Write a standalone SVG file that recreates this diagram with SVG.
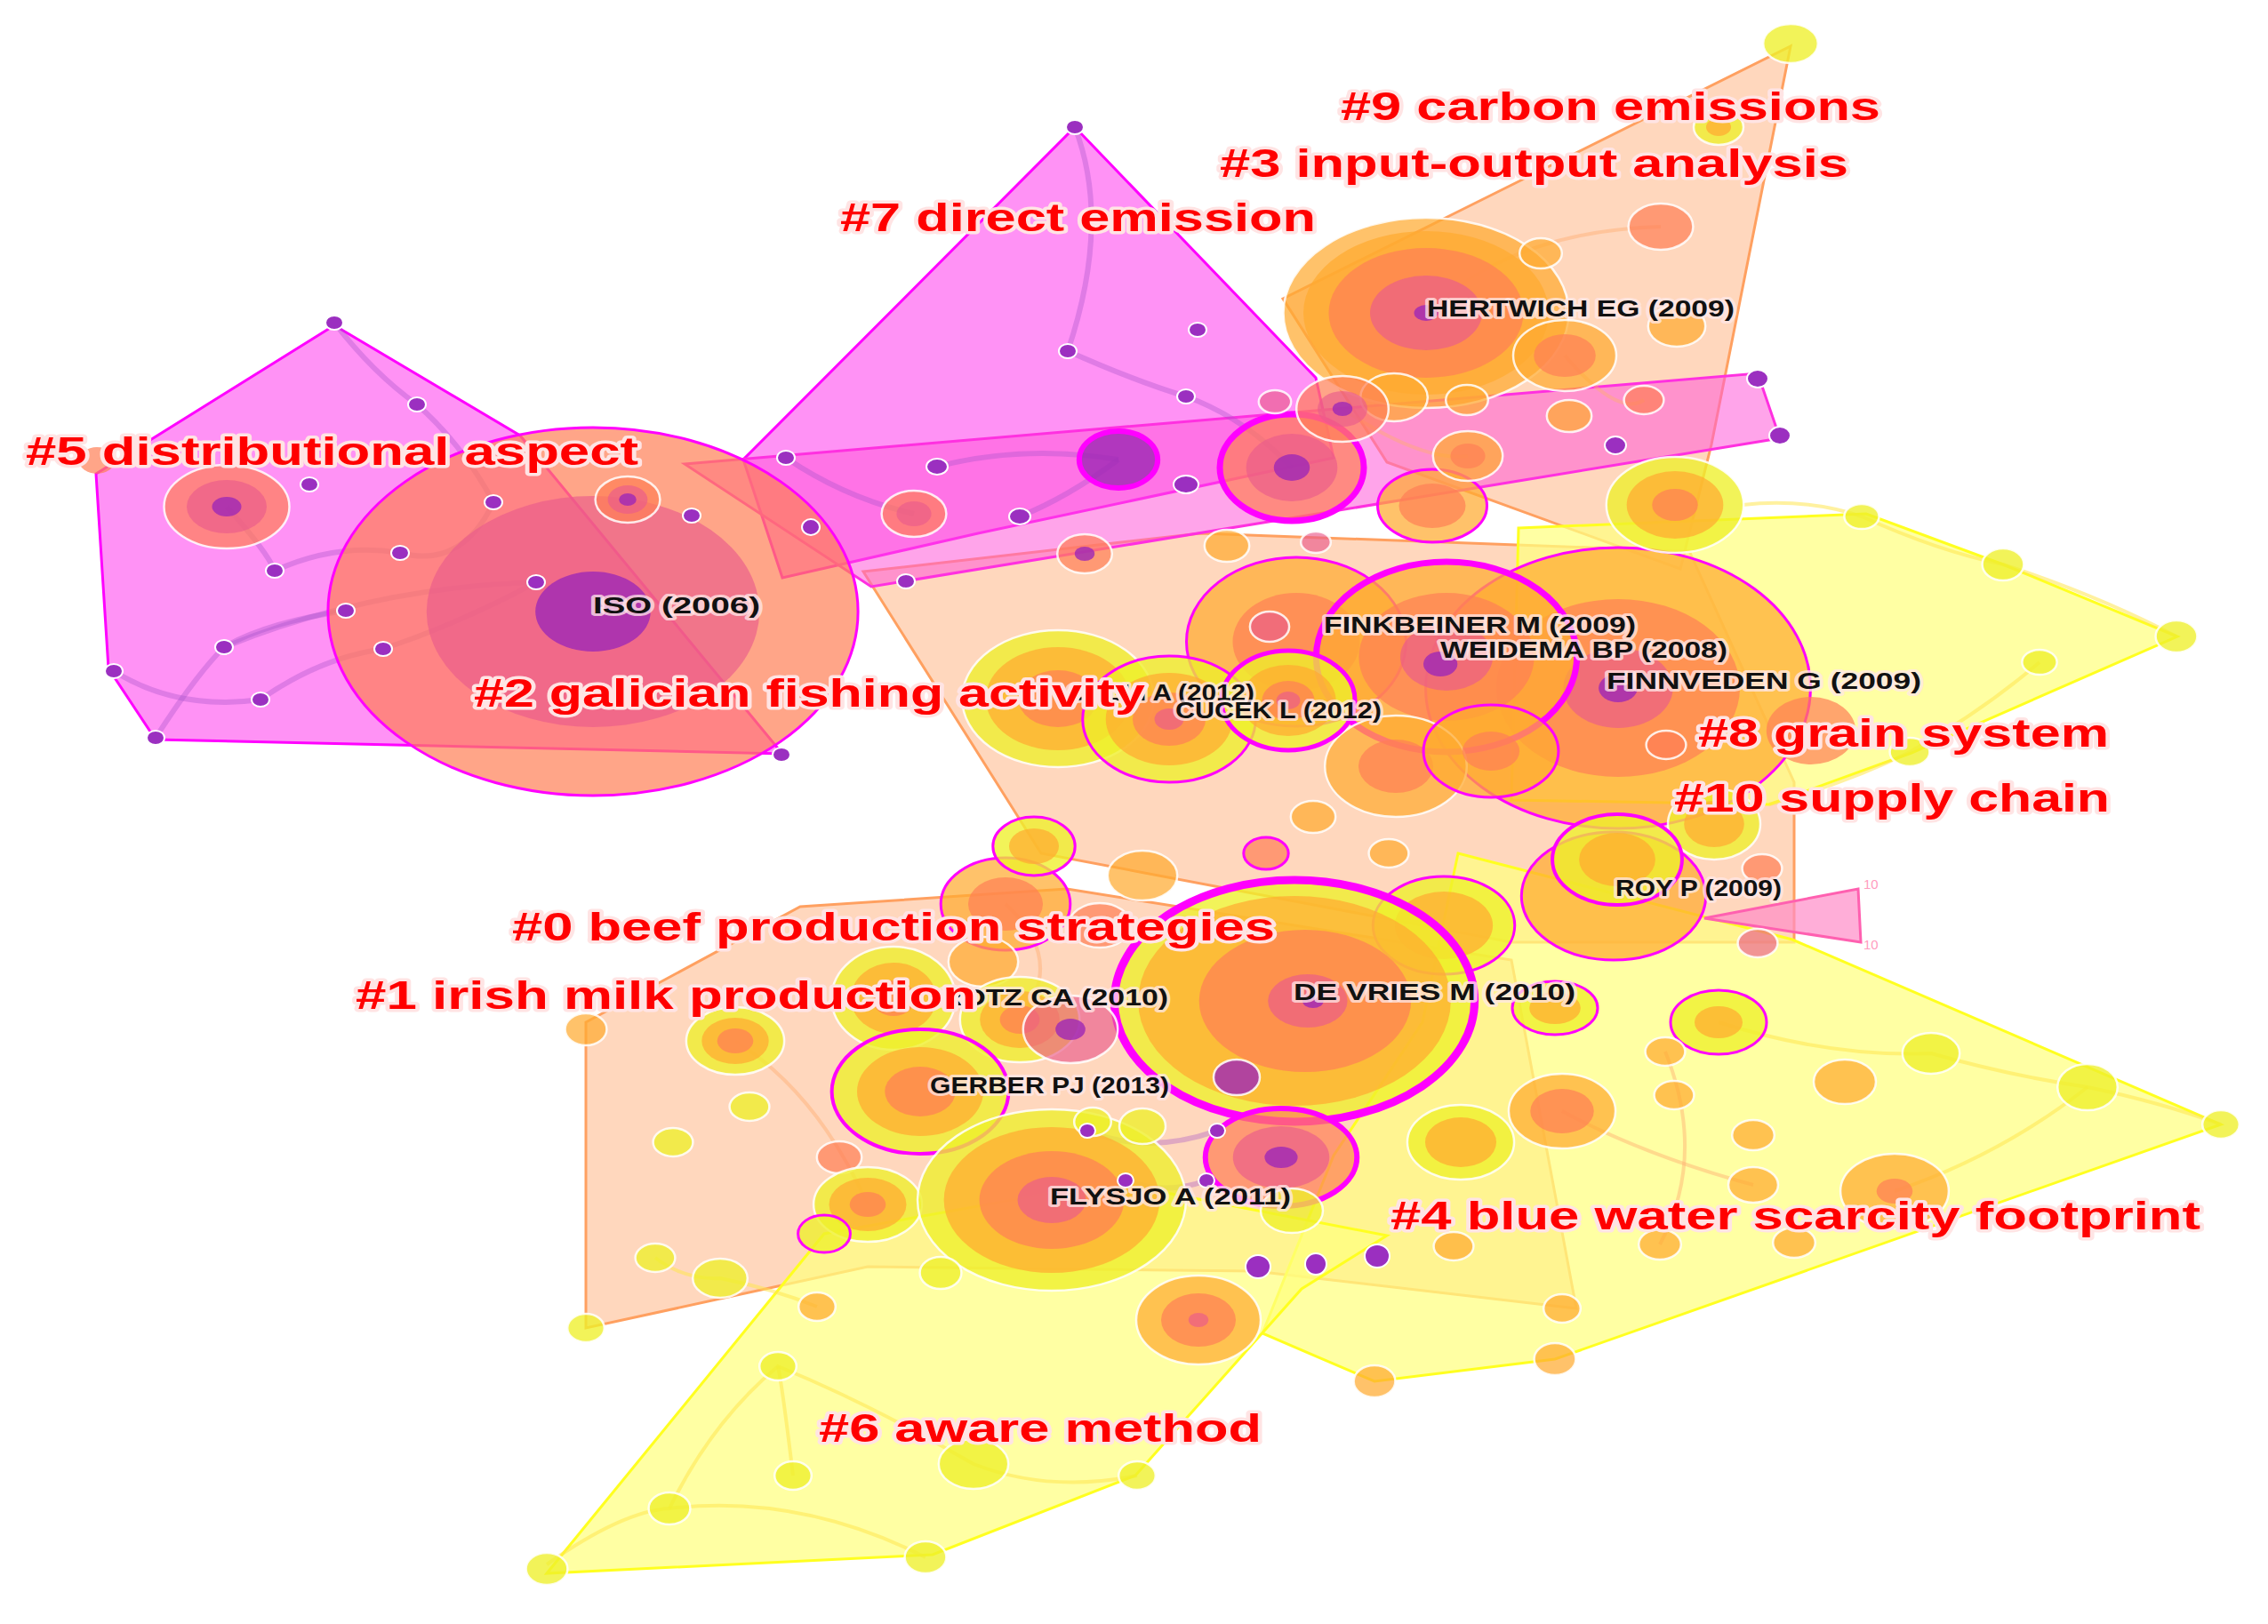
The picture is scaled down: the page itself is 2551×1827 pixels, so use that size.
<svg xmlns="http://www.w3.org/2000/svg" width="2551" height="1827" viewBox="0 0 2551 1827">
<style>
.hm{fill:#ff5af0;fill-opacity:.66;stroke:#ff00ff;stroke-width:3}
.hb{fill:#ff5ad8;fill-opacity:.55;stroke:#ff30e0;stroke-width:3}
.hp{fill:#ffc8a4;fill-opacity:.72;stroke:#ffa060;stroke-width:3}
.hy{fill:#ffff80;fill-opacity:.72;stroke:#ffff20;stroke-width:3}
.y{fill:#eef02a;fill-opacity:.78}
.o{fill:#ffab30;fill-opacity:.72}
.s{fill:#ff7f55;fill-opacity:.7}
.p{fill:#ea5a8c;fill-opacity:.65}
.v{fill:#a02ab5;fill-opacity:.82}
.w{stroke:#ffffff;stroke-width:2.5;stroke-opacity:.85;vector-effect:non-scaling-stroke}
.m{fill:none;stroke:#ff00ff;vector-effect:non-scaling-stroke}
.d{fill:#9b2fc0;stroke:#ffffff;stroke-width:2;vector-effect:non-scaling-stroke}
.ep{fill:none;stroke:#a450c8;stroke-opacity:.35;stroke-width:6}
.ey{fill:none;stroke:#ffe650;stroke-opacity:.55;stroke-width:4}
.eo{fill:none;stroke:#ffae70;stroke-opacity:.45;stroke-width:4}
.lbl{font-family:"Liberation Sans",Arial,sans-serif;font-weight:bold;font-size:45px;fill:#ff0000;stroke:#ffe4e4;stroke-width:7;stroke-linejoin:round;paint-order:stroke}
.au{font-family:"Liberation Sans",Arial,sans-serif;font-weight:bold;font-size:25px;fill:#111111;stroke:#ffe8e8;stroke-opacity:.75;stroke-width:6;stroke-linejoin:round;paint-order:stroke}
.ten{font-family:"Liberation Sans",Arial,sans-serif;font-size:15px;fill:#ff9cc0}
</style>
<rect width="2551" height="1827" fill="#ffffff"/>

<g id="hulls">
<polygon class="hp" points="971,643 1350,600 1900,620 2018,880 2018,1060 1700,1060 1171,960"/>
<polygon class="hp" points="2014,52 1925,500 1890,640 1560,520 1443,336 1630,243"/>
<polygon class="hp" points="659,1150 900,1020 1200,1000 1700,1080 1773,1472 1411,1430 976,1425 659,1494"/>
<polygon class="hy" points="1708,594 2099,578 2253,635 2449,716 2150,847 1990,905 1700,900"/>
<polygon class="hy" points="1640,960 2016,1057 2498,1265 1749,1529 1546,1554 1420,1500 1500,1300 1600,1150"/>
<polygon class="hy" points="615,1770 927,1388 1250,1330 1560,1390 1464,1450 1277,1660 1049,1749"/>
<polygon class="hm" points="376,366 585,490 880,848 175,832 122,752 108,533"/>
<polygon class="hm" points="1209,143 1480,425 1500,515 1100,600 880,650 836,517"/>
<polygon class="hb" points="770,522 1977,420 2002,493 980,660"/>
<polygon points="1917,1033 2090,1000 2093,1060" fill="#ff8cc8" fill-opacity=".7" stroke="#ff60b0" stroke-width="3"/>
<text class="ten" x="2096" y="1000">10</text>
<text class="ten" x="2096" y="1068">10</text>
</g>

<g id="connectors">
<path class="ep" d="M376,363 Q420,420 469,455 Q520,500 555,565"/>
<path class="ep" d="M128,755 Q200,800 293,787"/>
<path class="ep" d="M175,830 Q220,760 252,728 Q420,660 603,655"/>
<path class="ep" d="M309,642 Q380,610 450,622 Q520,640 555,565"/>
<path class="ep" d="M389,687 Q300,700 252,728"/>
<path class="ep" d="M293,787 Q360,740 431,730 Q520,700 603,655"/>
<path class="ep" d="M255,570 Q300,620 309,642"/>
<path class="ep" d="M1209,143 Q1250,250 1201,395"/>
<path class="ep" d="M1201,395 Q1280,430 1334,446 Q1400,470 1453,526"/>
<path class="ep" d="M1054,525 Q1150,500 1258,517"/>
<path class="ep" d="M884,515 Q950,560 1028,578"/>
<path class="ep" d="M1147,581 Q1200,560 1258,517"/>
<path class="ep" d="M1223,1272 Q1290,1300 1369,1272"/>
<path class="ep" d="M1266,1328 Q1310,1345 1357,1328"/>
<path class="eo" d="M1604,352 Q1700,260 1868,255"/>
<path class="eo" d="M1760,400 Q1820,470 1849,450"/>
<path class="eo" d="M1510,460 Q1600,520 1651,513"/>
<path class="eo" d="M1131,1017 Q1200,1080 1147,1147"/>
<path class="eo" d="M827,1171 Q920,1230 976,1355"/>
<path class="eo" d="M1757,1250 Q1850,1300 1972,1333"/>
<path class="eo" d="M1873,1183 Q1920,1300 1867,1400"/>
<path class="ey" d="M1960,568 Q2030,560 2094,581 Q2180,620 2253,635 Q2360,670 2448,716"/>
<path class="ey" d="M1990,905 Q2080,880 2148,846 Q2230,800 2294,745"/>
<path class="ey" d="M1933,1150 Q2060,1190 2172,1185 Q2260,1210 2348,1223 Q2430,1240 2498,1265"/>
<path class="ey" d="M2131,1340 Q2250,1300 2348,1223"/>
<path class="ey" d="M615,1760 Q700,1700 753,1697 Q900,1680 1041,1752"/>
<path class="ey" d="M753,1697 Q800,1600 875,1537 Q980,1580 1095,1647 Q1180,1680 1279,1660"/>
<path class="ey" d="M892,1660 Q880,1560 875,1537"/>
<path class="ey" d="M737,1415 Q770,1440 810,1438 Q870,1450 919,1470"/>
</g>

<g id="nodes">
<g id="n-iso" transform="translate(667 688) scale(1.44 1)"><circle class="s" r="207"/><circle class="m" r="207" stroke-width="3"/><circle class="p" r="130"/><circle class="v" r="45" fill-opacity=".6"/></g>
<g id="n-dist" transform="translate(255 570) scale(1.5 1)"><circle class="s w" r="47"/><circle class="p" r="30"/><circle class="v" r="11"/></g>
<g id="n-20" transform="translate(706 562) scale(1.4 1)"><circle class="s w" r="26"/><circle class="p" r="16"/><circle class="v" r="7"/></g>
<g id="n-21" transform="translate(109 518) scale(1.35 1)"><circle class="s" r="15"/></g>
<g id="n-hertwich" transform="translate(1604 352) scale(1.5 1)"><circle class="o w" r="107"/><circle class="o" r="92" fill-opacity=".3"/><circle class="s" r="73"/><circle class="p" r="42"/><circle class="v" r="9"/></g>
<g id="n-fin" transform="translate(1820 774) scale(1.37 1)"><circle class="o" r="158" fill-opacity=".62"/><circle class="m" r="158" stroke-width="3"/><circle class="s" r="100" fill-opacity=".5"/><circle class="p" r="45" fill-opacity=".5"/><circle class="v" r="16" fill-opacity=".6"/></g>
<g id="n-d1" transform="translate(1458 722) scale(1.3 1)"><circle class="o" r="95"/><circle class="m" r="95" stroke-width="3"/><circle class="s" r="55" fill-opacity=".5"/></g>
<g id="n-weidema" transform="translate(1627 739) scale(1.37 1)"><circle class="o" r="107"/><circle class="s" r="72" fill-opacity=".6"/><circle class="p" r="38" fill-opacity=".5"/><circle class="v" r="14" cx="-5" cy="8"/><circle class="m" r="107" stroke-width="7"/></g>
<g id="n-finkbeiner" transform="translate(1428 705) scale(1.3 1)"><circle class="p w" r="17"/></g>
<g id="n-big-c" transform="translate(1570 862) scale(1.4 1)"><circle class="o w" r="57"/><circle class="s" r="30" fill-opacity=".5"/></g>
<g id="n-yel1" transform="translate(1190 786) scale(1.4 1)"><circle class="y w" r="77"/><circle class="o" r="58"/><circle class="s" r="32" fill-opacity=".5"/></g>
<g id="n-galli" transform="translate(1315 809) scale(1.37 1)"><circle class="y" r="71"/><circle class="o" r="52"/><circle class="s" r="30" fill-opacity=".5"/><circle class="p" r="12"/><circle class="m" r="71" stroke-width="3"/></g>
<g id="n-cucek" transform="translate(1449 788) scale(1.34 1)"><circle class="y" r="56"/><circle class="o" r="40"/><circle class="s" r="22" fill-opacity=".5"/><circle class="p" r="10"/><circle class="m" r="56" stroke-width="5"/></g>
<g id="n-ff" transform="translate(1677 845) scale(1.46 1)"><circle class="o" r="52"/><circle class="s" r="22" fill-opacity=".5"/><circle class="m" r="52" stroke-width="3"/></g>
<g id="n-mag1" transform="translate(1258 517) scale(1.38 1)"><circle class="v" r="32" fill="#b030b0"/><circle class="m" r="32" stroke-width="6"/></g>
<g id="n-mag2" transform="translate(1453 526) scale(1.35 1)"><circle class="s" r="60"/><circle class="p" r="38"/><circle class="v" r="15"/><circle class="m" r="60" stroke-width="7"/></g>
<g id="n-mag3" transform="translate(1611 569) scale(1.5 1)"><circle class="o" r="41"/><circle class="s" r="25" fill-opacity=".5"/><circle class="m" r="41" stroke-width="3"/></g>
<g id="n-yel2" transform="translate(1884 568) scale(1.43 1)"><circle class="y w" r="54"/><circle class="o" r="38"/><circle class="s" r="18"/></g>
<g id="n-u1" transform="translate(2014 49) scale(1.4 1)"><circle class="y w" r="22"/></g>
<g id="n-u2" transform="translate(1933 143) scale(1.4 1)"><circle class="y w" r="20"/><circle class="o" r="10"/></g>
<g id="n-u3" transform="translate(1868 255) scale(1.4 1)"><circle class="s w" r="26"/></g>
<g id="n-u4" transform="translate(1733 285) scale(1.4 1)"><circle class="o w" r="17"/></g>
<g id="n-u5" transform="translate(1760 400) scale(1.45 1)"><circle class="o w" r="40"/><circle class="s" r="24" fill-opacity=".6"/></g>
<g id="n-u6" transform="translate(1886 367) scale(1.4 1)"><circle class="o w" r="23"/></g>
<g id="n-u7" transform="translate(1849 450) scale(1.4 1)"><circle class="s w" r="16"/></g>
<g id="n-u8" transform="translate(1765 468) scale(1.4 1)"><circle class="o w" r="18"/></g>
<g id="n-u9" transform="translate(1651 513) scale(1.4 1)"><circle class="o w" r="28"/><circle class="s" r="14"/></g>
<g id="n-u10" transform="translate(1568 447) scale(1.4 1)"><circle class="o w" r="27"/></g>
<g id="n-u11" transform="translate(1510 460) scale(1.4 1)"><circle class="s w" r="37"/><circle class="p" r="20"/><circle class="v" r="8"/></g>
<g id="n-u12" transform="translate(1434 452) scale(1.4 1)"><circle class="p w" r="13"/></g>
<g id="n-u13" transform="translate(1650 450) scale(1.4 1)"><circle class="o w" r="17"/></g>
<g id="n-u14" transform="translate(1480 610) scale(1.4 1)"><circle class="p w" r="12"/></g>
<g id="n-u15" transform="translate(1380 614) scale(1.4 1)"><circle class="o w" r="18"/></g>
<g id="n-u16" transform="translate(1220 623) scale(1.4 1)"><circle class="s w" r="22"/><circle class="v" r="8"/></g>
<g id="n-u17" transform="translate(1028 578) scale(1.4 1)"><circle class="s w" r="26"/><circle class="p" r="14"/></g>
<g id="n-r1" transform="translate(2037 822) scale(1.32 1)"><circle class="s" r="38" fill-opacity=".55"/></g>
<g id="n-r2" transform="translate(1874 838) scale(1.4 1)"><circle class="s w" r="16"/></g>
<g id="n-r3" transform="translate(1928 927) scale(1.3 1)"><circle class="y w" r="40"/><circle class="o" r="26"/></g>
<g id="n-r4" transform="translate(1982 977) scale(1.4 1)"><circle class="s w" r="16"/></g>
<g id="n-r5" transform="translate(1977 1061) scale(1.4 1)"><circle class="p w" r="16"/></g>
<g id="n-r6" transform="translate(2148 846) scale(1.4 1)"><circle class="y w" r="16"/></g>
<g id="n-r7" transform="translate(2294 745) scale(1.4 1)"><circle class="y w" r="14"/></g>
<g id="n-r8" transform="translate(2448 716) scale(1.3 1)"><circle class="y w" r="18"/></g>
<g id="n-r9" transform="translate(2253 635) scale(1.3 1)"><circle class="y w" r="18"/></g>
<g id="n-r10" transform="translate(2094 581) scale(1.4 1)"><circle class="y w" r="14"/></g>
<g id="n-roy2" transform="translate(1815 1008) scale(1.44 1)"><circle class="o" r="72" fill-opacity=".55"/><circle class="m" r="72" stroke-width="3"/></g>
<g id="n-roy1" transform="translate(1819 967) scale(1.43 1)"><circle class="y" r="51"/><circle class="o" r="30"/><circle class="m" r="51" stroke-width="4"/></g>
<g id="n-c1" transform="translate(1477 919) scale(1.4 1)"><circle class="o w" r="18"/></g>
<g id="n-c2" transform="translate(1562 960) scale(1.4 1)"><circle class="o w" r="16"/></g>
<g id="n-c3" transform="translate(1424 960) scale(1.4 1)"><circle class="s" r="18"/><circle class="m" r="18" stroke-width="3"/></g>
<g id="n-c4" transform="translate(1285 985) scale(1.4 1)"><circle class="o w" r="28"/></g>
<g id="n-c5" transform="translate(1131 1017) scale(1.4 1)"><circle class="o" r="52"/><circle class="s" r="30" fill-opacity=".5"/><circle class="m" r="52" stroke-width="3"/></g>
<g id="n-c6" transform="translate(1163 952) scale(1.4 1)"><circle class="y" r="33"/><circle class="o" r="20"/><circle class="m" r="33" stroke-width="3"/></g>
<g id="n-c7" transform="translate(1624 1041) scale(1.45 1)"><circle class="y" r="55"/><circle class="o" r="38"/><circle class="m" r="55" stroke-width="3"/></g>
<g id="n-c8" transform="translate(1237 1041) scale(1.4 1)"><circle class="s w" r="25"/></g>
<g id="n-c9" transform="translate(1106 1082) scale(1.4 1)"><circle class="o w" r="28"/></g>
<g id="n-devries" transform="translate(1456 1126) scale(1.49 1)"><circle class="y" r="136"/><circle class="o" r="118"/><circle class="s" r="80" cx="8" fill-opacity=".55"/><circle class="p" r="30" cx="10" fill-opacity=".5"/><circle class="v" r="8" cx="14"/><circle class="m" r="136" stroke-width="9"/></g>
<g id="n-c10" transform="translate(1005 1123) scale(1.2 1)"><circle class="y w" r="58"/><circle class="o" r="40"/><circle class="s" r="20"/></g>
<g id="n-c11" transform="translate(1147 1147) scale(1.4 1)"><circle class="y w" r="48"/><circle class="o" r="32"/><circle class="s" r="16"/></g>
<g id="n-c12" transform="translate(1204 1158) scale(1.4 1)"><circle class="p w" r="38"/><circle class="v" r="12"/></g>
<g id="n-c13" transform="translate(1391 1212) scale(1.3 1)"><circle class="v w" r="20"/></g>
<g id="n-c14" transform="translate(827 1171) scale(1.45 1)"><circle class="y w" r="38"/><circle class="o" r="26"/><circle class="s" r="14"/></g>
<g id="n-c15" transform="translate(659 1158) scale(1.3 1)"><circle class="o w" r="18"/></g>
<g id="n-c16" transform="translate(843 1245) scale(1.4 1)"><circle class="y w" r="16"/></g>
<g id="n-c17" transform="translate(944 1302) scale(1.4 1)"><circle class="s w" r="18"/></g>
<g id="n-c18" transform="translate(757 1285) scale(1.4 1)"><circle class="y w" r="16"/></g>
<g id="n-gerber" transform="translate(1035 1228) scale(1.42 1)"><circle class="y" r="70"/><circle class="o" r="50"/><circle class="s" r="28" fill-opacity=".5"/><circle class="m" r="70" stroke-width="4"/></g>
<g id="n-c19" transform="translate(976 1355) scale(1.45 1)"><circle class="y w" r="42"/><circle class="o" r="30"/><circle class="s" r="14"/></g>
<g id="n-flysjo" transform="translate(1183 1350) scale(1.48 1)"><circle class="y w" r="102"/><circle class="o" r="82"/><circle class="s" r="55"/><circle class="p" r="26"/></g>
<g id="n-c20" transform="translate(737 1415) scale(1.4 1)"><circle class="y w" r="16"/></g>
<g id="n-c21" transform="translate(810 1438) scale(1.4 1)"><circle class="y w" r="22"/></g>
<g id="n-c22" transform="translate(659 1494) scale(1.3 1)"><circle class="y w" r="16"/></g>
<g id="n-c23" transform="translate(919 1470) scale(1.3 1)"><circle class="o w" r="16"/></g>
<g id="n-c24" transform="translate(1058 1432) scale(1.3 1)"><circle class="y w" r="18"/></g>
<g id="n-c25" transform="translate(1229 1262) scale(1.3 1)"><circle class="y w" r="16"/></g>
<g id="n-c26" transform="translate(1285 1267) scale(1.3 1)"><circle class="y w" r="20"/></g>
<g id="n-c27" transform="translate(927 1388) scale(1.4 1)"><circle class="y" r="21"/><circle class="m" r="21" stroke-width="3"/></g>
<g id="n-maglow" transform="translate(1441 1302) scale(1.55 1)"><circle class="s" r="55"/><circle class="p" r="35"/><circle class="v" r="12"/><circle class="m" r="55" stroke-width="6"/></g>
<g id="n-c28" transform="translate(1348 1485) scale(1.4 1)"><circle class="o w" r="50"/><circle class="s" r="30"/><circle class="p" r="8"/></g>
<g id="n-c29" transform="translate(1453 1362) scale(1.4 1)"><circle class="y w" r="25"/></g>
<g id="n-c30" transform="translate(1635 1402) scale(1.4 1)"><circle class="o w" r="16"/></g>
<g id="n-c31" transform="translate(1643 1285) scale(1.43 1)"><circle class="y w" r="42"/><circle class="o" r="28"/></g>
<g id="n-c32" transform="translate(1757 1250) scale(1.43 1)"><circle class="o w" r="42"/><circle class="s" r="25"/></g>
<g id="n-c33" transform="translate(1933 1150) scale(1.5 1)"><circle class="y" r="36"/><circle class="o" r="18"/><circle class="m" r="36" stroke-width="3"/></g>
<g id="n-c34" transform="translate(1749 1134) scale(1.6 1)"><circle class="y" r="30"/><circle class="o" r="18"/><circle class="m" r="30" stroke-width="3"/></g>
<g id="n-c35" transform="translate(2075 1217) scale(1.4 1)"><circle class="o w" r="25"/></g>
<g id="n-c36" transform="translate(2172 1185) scale(1.4 1)"><circle class="y w" r="23"/></g>
<g id="n-c37" transform="translate(2348 1223) scale(1.3 1)"><circle class="y w" r="26"/></g>
<g id="n-c38" transform="translate(2498 1265) scale(1.3 1)"><circle class="y w" r="16"/></g>
<g id="n-c39" transform="translate(2131 1340) scale(1.45 1)"><circle class="o w" r="42"/><circle class="s" r="14"/></g>
<g id="n-c40" transform="translate(1972 1277) scale(1.4 1)"><circle class="o w" r="17"/></g>
<g id="n-c41" transform="translate(1972 1333) scale(1.4 1)"><circle class="o w" r="20"/></g>
<g id="n-c42" transform="translate(1873 1183) scale(1.4 1)"><circle class="o w" r="16"/></g>
<g id="n-c43" transform="translate(1883 1232) scale(1.4 1)"><circle class="o w" r="16"/></g>
<g id="n-c44" transform="translate(1867 1400) scale(1.4 1)"><circle class="o w" r="17"/></g>
<g id="n-c45" transform="translate(2018 1398) scale(1.4 1)"><circle class="o w" r="17"/></g>
<g id="n-c46" transform="translate(1757 1472) scale(1.3 1)"><circle class="o w" r="16"/></g>
<g id="n-c47" transform="translate(1749 1529) scale(1.3 1)"><circle class="o w" r="18"/></g>
<g id="n-c48" transform="translate(1546 1554) scale(1.3 1)"><circle class="o w" r="18"/></g>
<g id="n-c49" transform="translate(1279 1660) scale(1.3 1)"><circle class="y w" r="16"/></g>
<g id="n-c50" transform="translate(1095 1647) scale(1.4 1)"><circle class="y w" r="28"/></g>
<g id="n-c51" transform="translate(892 1660) scale(1.3 1)"><circle class="y w" r="16"/></g>
<g id="n-c52" transform="translate(875 1537) scale(1.3 1)"><circle class="y w" r="16"/></g>
<g id="n-c53" transform="translate(1041 1752) scale(1.3 1)"><circle class="y w" r="18"/></g>
<g id="n-c54" transform="translate(615 1765) scale(1.3 1)"><circle class="y w" r="18"/></g>
<g id="n-c55" transform="translate(753 1697) scale(1.3 1)"><circle class="y w" r="18"/></g>
<g id="n-dots">
<ellipse class="d" cx="376" cy="363" rx="10" ry="8"/><ellipse class="d" cx="469" cy="455" rx="10" ry="8"/>
<ellipse class="d" cx="348" cy="545" rx="10" ry="8"/><ellipse class="d" cx="555" cy="565" rx="10" ry="8"/>
<ellipse class="d" cx="450" cy="622" rx="10" ry="8"/><ellipse class="d" cx="309" cy="642" rx="10" ry="8"/>
<ellipse class="d" cx="603" cy="655" rx="10" ry="8"/><ellipse class="d" cx="389" cy="687" rx="10" ry="8"/>
<ellipse class="d" cx="252" cy="728" rx="10" ry="8"/><ellipse class="d" cx="431" cy="730" rx="10" ry="8"/>
<ellipse class="d" cx="128" cy="755" rx="10" ry="8"/><ellipse class="d" cx="293" cy="787" rx="10" ry="8"/>
<ellipse class="d" cx="175" cy="830" rx="10" ry="8"/><ellipse class="d" cx="884" cy="515" rx="10" ry="8"/>
<ellipse class="d" cx="778" cy="580" rx="10" ry="8"/><ellipse class="d" cx="912" cy="593" rx="10" ry="9" stroke="#ff00ff"/>
<ellipse class="d" cx="1209" cy="143" rx="10" ry="8"/><ellipse class="d" cx="1201" cy="395" rx="10" ry="8"/>
<ellipse class="d" cx="1347" cy="371" rx="10" ry="8"/><ellipse class="d" cx="1334" cy="446" rx="10" ry="8"/>
<ellipse class="d" cx="1054" cy="525" rx="12" ry="9"/><ellipse class="d" cx="1019" cy="654" rx="10" ry="8"/>
<ellipse class="d" cx="1147" cy="581" rx="12" ry="9"/><ellipse class="d" cx="879" cy="849" rx="10" ry="8"/>
<ellipse class="d" cx="1334" cy="545" rx="14" ry="10"/><ellipse class="d" cx="1817" cy="501" rx="12" ry="10"/>
<ellipse class="d" cx="1977" cy="426" rx="12" ry="10"/><ellipse class="d" cx="2002" cy="490" rx="12" ry="10"/>
<ellipse class="d" cx="1223" cy="1272" rx="9" ry="8"/><ellipse class="d" cx="1369" cy="1272" rx="9" ry="8"/>
<ellipse class="d" cx="1266" cy="1328" rx="9" ry="8"/><ellipse class="d" cx="1357" cy="1328" rx="9" ry="8"/>
<ellipse class="d" cx="1415" cy="1425" rx="14" ry="13"/><ellipse class="d" cx="1480" cy="1422" rx="12" ry="12"/>
<ellipse class="d" cx="1549" cy="1413" rx="14" ry="13"/>
</g>
</g>

<g id="author-labels">
<text class="au" x="1605" y="356" textLength="346" lengthAdjust="spacingAndGlyphs">HERTWICH EG (2009)</text>
<text class="au" x="667" y="690" textLength="188" lengthAdjust="spacingAndGlyphs">ISO (2006)</text>
<text class="au" x="1489" y="712" textLength="351" lengthAdjust="spacingAndGlyphs">FINKBEINER M (2009)</text>
<text class="au" x="1620" y="740" textLength="323" lengthAdjust="spacingAndGlyphs">WEIDEMA BP (2008)</text>
<text class="au" x="1807" y="775" textLength="354" lengthAdjust="spacingAndGlyphs">FINNVEDEN G (2009)</text>
<text class="au" x="1200" y="788" textLength="211" lengthAdjust="spacingAndGlyphs">GALLI A (2012)</text>
<text class="au" x="1322" y="808" textLength="232" lengthAdjust="spacingAndGlyphs">CUCEK L (2012)</text>
<text class="au" x="1817" y="1008" textLength="187" lengthAdjust="spacingAndGlyphs">ROY P (2009)</text>
<text class="au" x="1455" y="1125" textLength="317" lengthAdjust="spacingAndGlyphs">DE VRIES M (2010)</text>
<text class="au" x="1058" y="1131" textLength="256" lengthAdjust="spacingAndGlyphs">ROTZ CA (2010)</text>
<text class="au" x="1046" y="1230" textLength="269" lengthAdjust="spacingAndGlyphs">GERBER PJ (2013)</text>
<text class="au" x="1181" y="1355" textLength="271" lengthAdjust="spacingAndGlyphs">FLYSJO A (2011)</text>
</g>

<g id="cluster-labels">
<text class="lbl" x="1508" y="135" textLength="607" lengthAdjust="spacingAndGlyphs">#9 carbon emissions</text>
<text class="lbl" x="1372" y="199" textLength="707" lengthAdjust="spacingAndGlyphs">#3 input-output analysis</text>
<text class="lbl" x="945" y="260" textLength="535" lengthAdjust="spacingAndGlyphs">#7 direct emission</text>
<text class="lbl" x="29" y="523" textLength="689" lengthAdjust="spacingAndGlyphs">#5 distributional aspect</text>
<text class="lbl" x="533" y="795" textLength="755" lengthAdjust="spacingAndGlyphs">#2 galician fishing activity</text>
<text class="lbl" x="1910" y="840" textLength="462" lengthAdjust="spacingAndGlyphs">#8 grain system</text>
<text class="lbl" x="1883" y="913" textLength="490" lengthAdjust="spacingAndGlyphs">#10 supply chain</text>
<text class="lbl" x="576" y="1058" textLength="858" lengthAdjust="spacingAndGlyphs">#0 beef production strategies</text>
<text class="lbl" x="400" y="1135" textLength="698" lengthAdjust="spacingAndGlyphs">#1 irish milk production</text>
<text class="lbl" x="1564" y="1383" textLength="911" lengthAdjust="spacingAndGlyphs">#4 blue water scarcity footprint</text>
<text class="lbl" x="921" y="1622" textLength="498" lengthAdjust="spacingAndGlyphs">#6 aware method</text>
</g>
</svg>
